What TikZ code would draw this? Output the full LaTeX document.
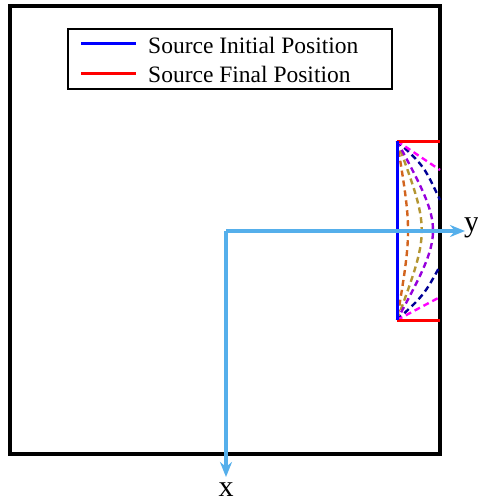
\documentclass[tikz,border=0pt]{standalone}
\usepackage{fontspec}
\setmainfont{Liberation Serif}
\usetikzlibrary{arrows.meta}
\definecolor{axisblue}{RGB}{85,175,235}
\definecolor{srcorange}{RGB}{210,100,30}
\definecolor{srcolive}{RGB}{180,150,50}
\definecolor{srcpurple}{RGB}{150,0,220}
\definecolor{srcnavy}{RGB}{0,0,150}
\definecolor{srcmag}{RGB}{255,0,255}
\tikzset{
  frame/.style={draw=black,line width=3.2pt},
  legendbox/.style={draw=black,line width=1.6pt},
  srcline/.style={line width=3pt},
  trajdash/.style={line width=2.4pt,dash pattern=on 6pt off 4pt},
  axis/.style={draw=axisblue,line width=3.2pt,-{Stealth[length=15pt,width=12pt]}},
  lbl/.style={font=\fontsize{23.5}{27}\selectfont,anchor=west,inner sep=0pt},
  axlbl/.style={font=\fontsize{30}{34}\selectfont,inner sep=0pt}
}
\begin{document}
\begin{tikzpicture}[x=1pt,y=-1pt]
\useasboundingbox (0,0) rectangle (477,503);
% outer frame
\draw[frame] (10,6) rectangle (440,454);
% legend
\draw[legendbox] (68,29) rectangle (392,89);
\draw[blue,srcline] (81,44) -- (136,44);
\draw[red,srcline] (81,73) -- (136,73);
\node[lbl] (l1) at (148,45) {Source Initial Position};
\node[lbl] (l2) at (148,74) {Source Final Position};
% source corners
\coordinate (T) at (397,141);
\coordinate (B) at (397,320);
\coordinate (TR) at (440,141);
\coordinate (BR) at (440,320);
% dashed paths
\draw[trajdash,srcorange] (T) .. controls (411.7,230.5) .. (B);
\draw[trajdash,srcolive] (T) .. controls (430,230.5) .. (B);
\draw[trajdash,srcpurple] (T) .. controls (445,230.5) .. (B);
\draw[trajdash,srcnavy] (T) .. controls (424,166) .. (440,200);
\draw[trajdash,srcnavy] (B) .. controls (424,295) .. (440,266);
\draw[trajdash,srcmag] (T) -- (440,170);
\draw[trajdash,srcmag] (B) -- (440,297);
% source lines
\draw[red,srcline] (T) -- (TR);
\draw[red,srcline] (B) -- (BR);
\draw[blue,srcline] (T) -- (B);
% axes
\coordinate (O) at (226,231);
\coordinate (Y) at (465,231);
\coordinate (X) at (226,477);
\draw[axis] (O) -- (Y);
\draw[axis] (O) -- (X);
\node[axlbl,anchor=west] (ylab) at (464,228) {y};
\node[axlbl] (xlab) at (226,490) {x};
\end{tikzpicture}
\end{document}
